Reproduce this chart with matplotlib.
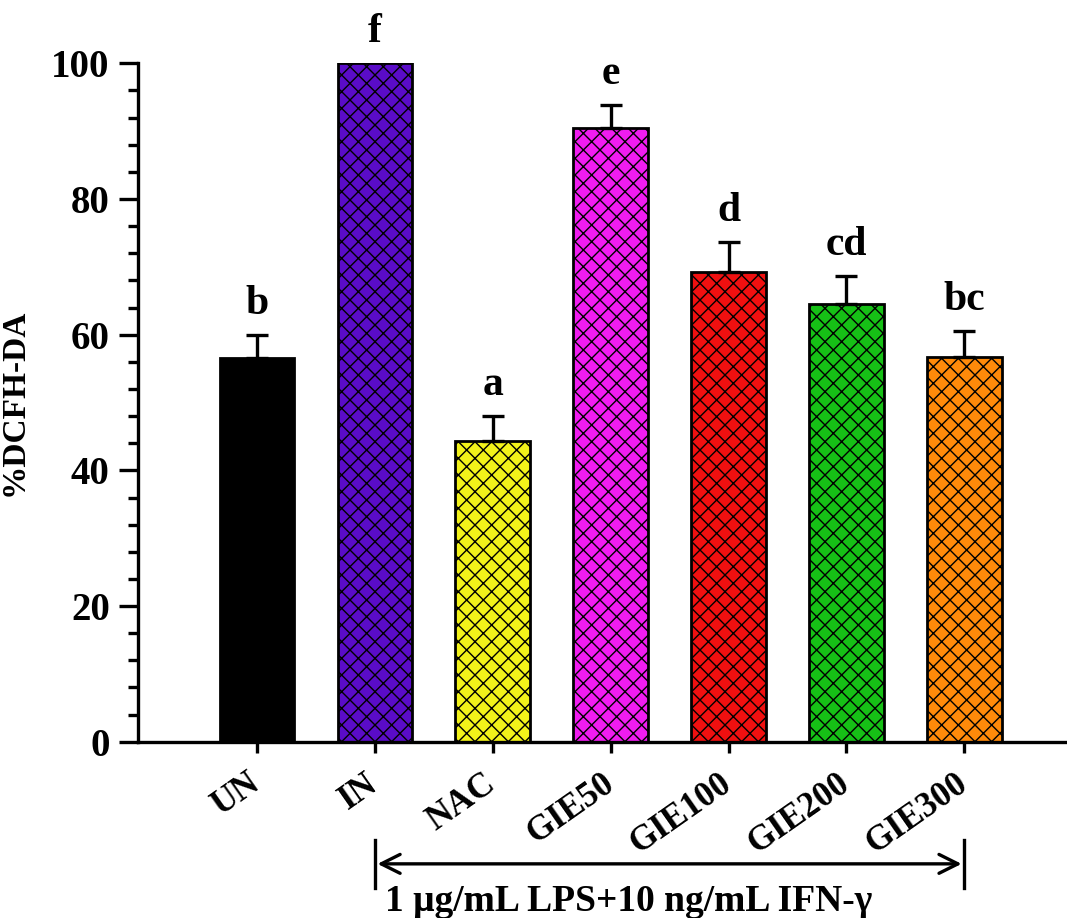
import numpy as np
import matplotlib.pyplot as plt

plt.rcParams['font.family'] = ['Liberation Serif', 'DejaVu Serif']
plt.rcParams['font.weight'] = 'bold'
plt.rcParams['hatch.linewidth'] = 1.0

groups = ['UN', 'IN', 'NAC', 'GIE50', 'GIE100', 'GIE200', 'GIE300']
means = [56.6, 100.0, 44.3, 90.4, 69.2, 64.5, 56.7]
errs = [3.3, 0.0, 3.7, 3.5, 4.5, 4.1, 3.8]
letters = ['b', 'f', 'a', 'e', 'd', 'cd', 'bc']
colors = ['#000000', '#5a0cc8', '#f2f21a', '#f01cf0', '#f01010', '#16c016', '#ff8a0a']
hatches = ['', 'xx', 'xx', 'xx', 'xx', 'xx', 'xx']

fig = plt.figure(figsize=(10.67, 9.18), dpi=100)
ax = fig.add_axes([0.129, 0.192, 0.871, 0.739])

x = np.arange(len(groups))
for i in range(len(groups)):
    ax.bar(x[i], means[i], width=0.63, color=colors[i], edgecolor='black',
           linewidth=2.0, hatch=hatches[i], zorder=2)
    if errs[i] > 0:
        ax.errorbar(x[i], means[i], yerr=[[0], [errs[i]]], fmt='none', ecolor='black',
                    elinewidth=2.4, capsize=8, capthick=2.4, zorder=3)
    ax.text(x[i], means[i] + errs[i] + 1.8, letters[i], ha='center', va='bottom',
            fontsize=30, fontweight='bold', clip_on=False)

ax.set_xlim(-1.01, 6.87)
ax.set_ylim(0, 100)
ax.set_yticks([0, 20, 40, 60, 80, 100])
ax.set_yticks(np.arange(0, 101, 4), minor=True)
ax.set_xticks(x)
ax.set_xticklabels(groups, rotation=35, ha='right', va='center', rotation_mode='anchor',
                   fontsize=25, fontweight='bold')
ax.tick_params(axis='x', pad=20, length=8, width=2.4)
ax.tick_params(axis='y', which='major', length=14, width=2.4, labelsize=28, pad=6)
ax.tick_params(axis='y', which='minor', length=7, width=2.4)
for lab in ax.get_yticklabels():
    lab.set_fontweight('bold')

ax.spines['top'].set_visible(False)
ax.spines['right'].set_visible(False)
ax.spines['left'].set_linewidth(2.4)
ax.spines['bottom'].set_linewidth(2.4)

ax.set_ylabel('%DCFH-DA', fontsize=24, fontweight='bold', labelpad=16)

# treatment bracket under the axis
y_arr = -18
ax.annotate('', xy=(1, y_arr), xytext=(6, y_arr), xycoords='data',
            arrowprops=dict(arrowstyle='<->', lw=2.4, color='black', mutation_scale=34),
            annotation_clip=False)
for xe in [1, 6]:
    ax.plot([xe, xe], [y_arr - 3.5, y_arr + 3.5], color='black', lw=2.4, clip_on=False)
ax.text(3.15, y_arr - 5.6, '1 \u03bcg/mL LPS+10 ng/mL IFN-\u03b3', ha='center', va='center',
        fontsize=27, fontweight='bold', clip_on=False)

plt.savefig('out.png', dpi=100)
